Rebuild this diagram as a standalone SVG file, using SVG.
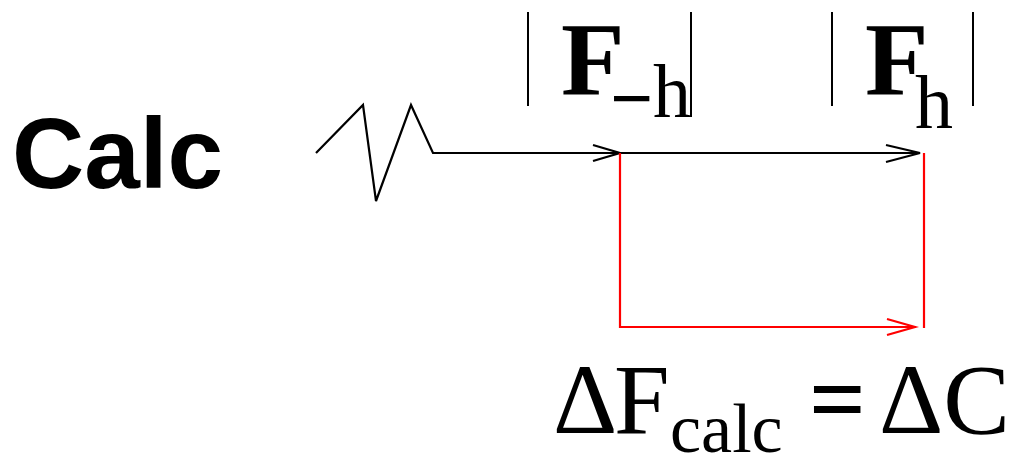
<svg xmlns="http://www.w3.org/2000/svg" width="1012" height="460" viewBox="0 0 1012 460">
<style>
.blk{fill:none;stroke:#000;stroke-width:2.2;stroke-linejoin:miter}
.red{fill:none;stroke:#ff0000;stroke-width:2.2}
.bar{stroke:#000;stroke-width:2}
.sans{font-family:"Liberation Sans",Arial,sans-serif;font-weight:bold}
.serif{font-family:"Liberation Serif","Times New Roman",serif}
</style>
<rect width="1012" height="460" fill="#fff"/>
<g id="label-calc">
<text class="sans" x="12" y="188" font-size="100">Calc</text>
</g>
<g id="node-fminus">
<line class="bar" x1="528" y1="12" x2="528" y2="106"/>
<line class="bar" x1="691" y1="12" x2="691" y2="117"/>
<text class="serif" x="561" y="94" font-size="104" font-weight="bold">F</text>
<text class="serif" font-size="76"><tspan x="610" y="124" font-weight="bold">−</tspan><tspan x="653" y="117">h</tspan></text>
</g>
<g id="node-fh">
<line class="bar" x1="832" y1="12" x2="832" y2="106"/>
<line class="bar" x1="973" y1="12" x2="973" y2="106"/>
<text class="serif" x="865" y="94" font-size="104" font-weight="bold">F</text>
<text class="serif" x="915" y="128" font-size="76">h</text>
</g>
<g id="node-eq">
<text class="serif" x="553" y="433" font-size="100">Δ</text>
<text class="serif" x="614" y="433" font-size="100">F</text>
<text class="serif" x="670" y="452" font-size="70">calc</text>
<text class="serif" x="809" y="433" font-size="100" font-weight="bold">=</text>
<text class="serif" x="879" y="433" font-size="100">ΔC</text>
</g>
<g id="connectors">
<polyline class="blk" points="316,153 363,105 376,201 411,105 433,153 920,153"/>
<polyline class="blk" points="593,145 620,153 593,161"/>
<polyline class="blk" points="886,145 920,153 886,162"/>
<polyline class="red" points="620,153 620,327 916,327"/>
<line class="red" x1="924" y1="153" x2="924" y2="328"/>
<polyline class="red" points="887,319 915,327 887,335"/>
</g>
</svg>
